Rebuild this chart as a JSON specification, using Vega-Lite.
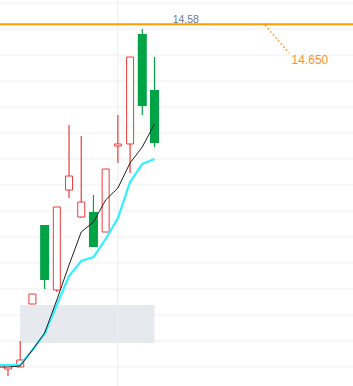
{
  "$schema": "https://vega.github.io/schema/vega-lite/v6.json",
  "width": 353,
  "height": 386,
  "padding": 0,
  "autosize": {"type": "none"},
  "background": "#ffffff",
  "config": {"view": {"stroke": null}},
  "datasets": {
    "candles": [
      {"i": 1, "open": 13.2923, "close": 13.3077, "high": 13.3077, "low": 13.2654, "dir": "up"},
      {"i": 2, "open": 13.3, "close": 13.3269, "high": 13.4, "low": 13.3, "dir": "up"},
      {"i": 3, "open": 13.5423, "close": 13.5808, "high": 13.5808, "low": 13.5423, "dir": "up"},
      {"i": 4, "open": 13.8462, "close": 13.6346, "high": 13.8462, "low": 13.6, "dir": "down"},
      {"i": 5, "open": 13.5962, "close": 13.9154, "high": 13.9154, "low": 13.5885, "dir": "up"},
      {"i": 6, "open": 13.9808, "close": 14.0346, "high": 14.2308, "low": 13.95, "dir": "up"},
      {"i": 7, "open": 13.8769, "close": 13.9346, "high": 14.1885, "low": 13.8731, "dir": "up"},
      {"i": 8, "open": 13.8962, "close": 13.7615, "high": 13.9615, "low": 13.7615, "dir": "down"},
      {"i": 9, "open": 13.8192, "close": 14.0615, "high": 14.0615, "low": 13.8192, "dir": "up"},
      {"i": 10, "open": 14.15, "close": 14.1577, "high": 14.2692, "low": 14.0846, "dir": "up"},
      {"i": 11, "open": 14.1577, "close": 14.4923, "high": 14.4923, "low": 14.0462, "dir": "up"},
      {"i": 12, "open": 14.5808, "close": 14.3038, "high": 14.6, "low": 14.2692, "dir": "down"},
      {"i": 13, "open": 14.3654, "close": 14.1615, "high": 14.4923, "low": 14.1462, "dir": "down"}
    ],
    "ma": [
      {"i": 0, "ma5": 13.3, "ma10": 13.3077},
      {"i": 1, "ma5": 13.3, "ma10": 13.3077},
      {"i": 2, "ma5": 13.3038, "ma10": 13.3077},
      {"i": 3, "ma5": 13.3654, "ma10": 13.3654},
      {"i": 4, "ma5": 13.4308, "ma10": 13.4269},
      {"i": 5, "ma5": 13.5577, "ma10": 13.5385},
      {"i": 6, "ma5": 13.6923, "ma10": 13.65},
      {"i": 7, "ma5": 13.8192, "ma10": 13.7077},
      {"i": 8, "ma5": 13.8577, "ma10": 13.7231},
      {"i": 9, "ma5": 13.9423, "ma10": 13.7923},
      {"i": 10, "ma5": 13.9885, "ma10": 13.8731},
      {"i": 11, "ma5": 14.0846, "ma10": 14.0115},
      {"i": 12, "ma5": 14.1462, "ma10": 14.0808},
      {"i": 13, "ma5": 14.2346, "ma10": 14.1}
    ],
    "grid": [
      {"p": 13.3}, {"p": 13.4}, {"p": 13.5}, {"p": 13.6}, {"p": 13.7},
      {"p": 13.8}, {"p": 13.9}, {"p": 14.0}, {"p": 14.1}, {"p": 14.2},
      {"p": 14.3}, {"p": 14.4}, {"p": 14.5}, {"p": 14.6}, {"p": 14.7}
    ],
    "zone": [{"i1": 2, "i2": 13, "p1": 13.3923, "p2": 13.5385}],
    "vline": [{"i": 10}],
    "level": [{"p": 14.6181}],
    "levelLabel": [{"i": 14.49, "p": 14.6219, "label": "14.58"}],
    "pointer": [{"i1": 22.05, "p1": 14.6154, "i2": 24.0, "p2": 14.5088}],
    "pointerLabel": [{"i": 24.23, "p": 14.4654, "label": "14.650"}]
  },
  "encoding": {
    "x": {"type": "quantitative", "scale": {"domain": [0.345, 29.26], "nice": false, "zero": false, "padding": 0}, "axis": null},
    "y": {"type": "quantitative", "scale": {"domain": [13.22692, 14.71154], "nice": false, "zero": false, "padding": 0}, "axis": null}
  },
  "layer": [
    {
      "data": {"name": "grid"},
      "mark": {"type": "rule", "color": "#eeeeee", "strokeWidth": 1},
      "encoding": {"y": {"field": "p", "type": "quantitative"}}
    },
    {
      "data": {"name": "zone"},
      "mark": {"type": "rect", "color": "#e6e9ee"},
      "encoding": {
        "x": {"field": "i1", "type": "quantitative"},
        "x2": {"field": "i2"},
        "y": {"field": "p1", "type": "quantitative"},
        "y2": {"field": "p2"}
      }
    },
    {
      "data": {"name": "vline"},
      "mark": {"type": "rule", "color": "#e8eef4", "strokeWidth": 1},
      "encoding": {"x": {"field": "i", "type": "quantitative"}}
    },
    {
      "data": {"name": "candles"},
      "mark": {"type": "rule", "strokeWidth": 1.2},
      "encoding": {
        "x": {"field": "i", "type": "quantitative"},
        "y": {"field": "low", "type": "quantitative"},
        "y2": {"field": "high"},
        "color": {"field": "dir", "type": "nominal", "scale": {"domain": ["up", "down"], "range": ["#ee3b3b", "#00a445"]}, "legend": null}
      }
    },
    {
      "data": {"name": "candles"},
      "transform": [{"filter": "datum.dir === 'up'"}],
      "mark": {"type": "bar", "fill": "#ffffff", "stroke": "#ee3b3b", "strokeWidth": 1, "size": 7},
      "encoding": {
        "x": {"field": "i", "type": "quantitative"},
        "y": {"field": "open", "type": "quantitative"},
        "y2": {"field": "close"}
      }
    },
    {
      "data": {"name": "candles"},
      "transform": [{"filter": "datum.dir === 'down'"}],
      "mark": {"type": "bar", "fill": "#00a445", "size": 9},
      "encoding": {
        "x": {"field": "i", "type": "quantitative"},
        "y": {"field": "open", "type": "quantitative"},
        "y2": {"field": "close"}
      }
    },
    {
      "data": {"name": "ma"},
      "mark": {"type": "line", "color": "#33f0ff", "strokeWidth": 2.2, "clip": true},
      "encoding": {
        "x": {"field": "i", "type": "quantitative"},
        "y": {"field": "ma10", "type": "quantitative"}
      }
    },
    {
      "data": {"name": "ma"},
      "mark": {"type": "line", "color": "#222222", "strokeWidth": 1, "clip": true},
      "encoding": {
        "x": {"field": "i", "type": "quantitative"},
        "y": {"field": "ma5", "type": "quantitative"}
      }
    },
    {
      "data": {"name": "level"},
      "mark": {"type": "rule", "color": "#ff9a00", "strokeWidth": 2},
      "encoding": {"y": {"field": "p", "type": "quantitative"}}
    },
    {
      "data": {"name": "levelLabel"},
      "mark": {"type": "text", "align": "left", "baseline": "alphabetic", "fontSize": 10.5, "font": "Liberation Sans", "color": "#6a7a90"},
      "encoding": {
        "x": {"field": "i", "type": "quantitative"},
        "y": {"field": "p", "type": "quantitative"},
        "text": {"field": "label"}
      }
    },
    {
      "data": {"name": "pointer"},
      "mark": {"type": "rule", "color": "#ff9933", "strokeWidth": 1.3, "strokeDash": [2, 2]},
      "encoding": {
        "x": {"field": "i1", "type": "quantitative"},
        "x2": {"field": "i2"},
        "y": {"field": "p1", "type": "quantitative"},
        "y2": {"field": "p2"}
      }
    },
    {
      "data": {"name": "pointerLabel"},
      "mark": {"type": "text", "align": "left", "baseline": "alphabetic", "fontSize": 12, "font": "Liberation Sans", "color": "#ff8f26"},
      "encoding": {
        "x": {"field": "i", "type": "quantitative"},
        "y": {"field": "p", "type": "quantitative"},
        "text": {"field": "label"}
      }
    }
  ]
}
